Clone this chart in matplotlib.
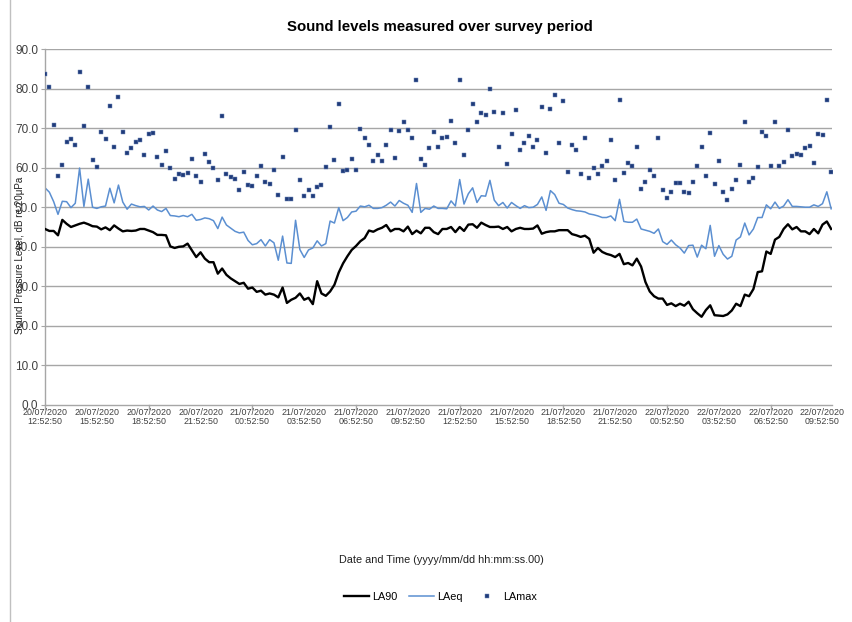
import matplotlib
matplotlib.use("Agg")
import matplotlib.pyplot as plt
from matplotlib.lines import Line2D
import numpy as np
from datetime import datetime, timedelta

plt.rcParams['font.family'] = ['Liberation Sans', 'DejaVu Sans']

# ---- data (15-minute intervals starting 20/07/2020 12:52:50) ----
start = datetime(2020, 7, 20, 12, 52, 50)
step_minutes = 15

la90 = [
    44.5, 44.0, 44.0, 42.9, 46.8, 45.8, 45.0, 45.4, 45.8, 46.1,
    45.7, 45.2, 45.1, 44.4, 44.9, 44.2, 45.4, 44.6, 43.9, 44.1,
    44.0, 44.1, 44.5, 44.5, 44.1, 43.7, 43.0, 43.0, 42.9, 40.1,
    39.7, 40.0, 40.1, 40.8, 39.1, 37.4, 38.6, 37.0, 36.1, 36.1,
    33.2, 34.5, 32.9, 32.0, 31.3, 30.6, 30.9, 29.4, 29.7, 28.6,
    28.9, 27.9, 28.2, 27.9, 27.2, 29.7, 25.8, 26.6, 27.1, 28.2,
    26.6, 27.1, 25.5, 31.3, 28.2, 27.6, 28.7, 30.4, 33.5, 35.8,
    37.6, 39.2, 40.2, 41.4, 42.2, 44.1, 43.8, 44.4, 44.8, 45.5,
    43.9, 44.5, 44.5, 43.9, 45.1, 43.2, 44.1, 43.4, 44.8, 44.8,
    43.7, 43.2, 44.5, 44.5, 45.0, 43.7, 45.0, 44.0, 45.6, 45.7,
    44.8, 46.1, 45.5, 45.0, 45.0, 45.1, 44.5, 45.0, 43.9, 44.5,
    44.8, 44.5, 44.5, 44.6, 45.4, 43.3, 43.7, 43.9, 43.9, 44.2,
    44.2, 44.2, 43.2, 42.9, 42.5, 42.8, 42.0, 38.5, 39.7, 38.7,
    38.2, 37.9, 37.4, 38.2, 35.6, 35.9, 35.3, 37.0, 35.0, 31.1,
    28.7, 27.5, 26.9, 26.9, 25.3, 25.7, 25.0, 25.6, 25.1, 26.1,
    24.2, 23.2, 22.3, 24.0, 25.2, 22.7, 22.6, 22.5, 22.9, 23.9,
    25.6, 25.0, 27.9, 27.5, 29.3, 33.6, 33.8, 38.8, 38.2, 41.8,
    42.5, 44.5, 45.7, 44.4, 45.0, 43.9, 43.9, 43.2, 44.5, 43.4,
    45.6, 46.4, 44.5,
]

laeq = [
    54.9, 53.8, 51.4, 48.2, 51.5, 51.4, 49.9, 51.0, 59.9, 50.2,
    57.1, 50.0, 49.7, 50.1, 50.3, 54.8, 51.1, 55.6, 51.3, 49.5,
    50.8, 50.4, 50.1, 50.2, 49.3, 50.3, 49.3, 48.9, 49.7, 47.9,
    47.8, 47.6, 47.9, 47.6, 48.2, 46.7, 46.9, 47.3, 47.1, 46.6,
    44.6, 47.5, 45.5, 44.7, 43.9, 43.5, 43.7, 41.6, 40.5, 40.8,
    41.8, 40.2, 41.8, 41.0, 36.6, 42.7, 35.9, 35.8, 46.7, 39.3,
    37.3, 39.2, 39.7, 41.5, 40.2, 40.8, 46.5, 46.0, 49.9, 46.6,
    47.4, 48.8, 49.0, 50.3, 50.1, 50.5, 49.7, 49.7, 49.9, 50.5,
    51.3, 50.3, 51.7, 51.0, 50.5, 48.7, 56.0, 48.7, 49.7, 49.5,
    50.3, 49.7, 49.7, 49.6, 51.6, 50.3, 57.0, 50.8, 53.4, 54.9,
    51.2, 52.9, 52.8, 56.8, 51.8, 50.4, 51.2, 49.8, 51.2, 50.4,
    49.7, 50.4, 49.9, 50.0, 50.7, 52.6, 49.2, 54.2, 53.2, 51.0,
    50.7, 49.8, 49.4, 49.1, 49.0, 48.8, 48.3, 48.1, 47.8, 47.4,
    47.4, 47.8, 46.6, 52.0, 46.4, 46.2, 46.2, 47.0, 44.5, 44.2,
    43.9, 43.4, 44.5, 41.3, 40.6, 41.7, 40.5, 39.7, 38.4, 40.3,
    40.4, 37.4, 40.4, 39.5, 45.4, 37.6, 40.3, 38.1, 36.9, 37.6,
    41.7, 42.5, 46.0, 43.0, 44.5, 47.4, 47.4, 50.6, 49.6, 51.3,
    49.7, 50.3, 51.9, 50.2, 50.2, 50.1, 50.0, 50.0, 50.6, 50.2,
    50.9, 53.9, 49.6,
]

lamax = [
    83.6, 80.5, 70.8, 57.9, 60.8, 66.4, 67.2, 65.8, 84.3, 70.6,
    80.5, 61.9, 60.2, 68.9, 67.2, 75.5, 65.1, 77.8, 68.9, 63.6,
    64.9, 66.6, 67.0, 63.1, 68.5, 68.7, 62.6, 60.6, 64.2, 60.0,
    57.2, 58.4, 58.2, 58.6, 62.1, 57.8, 56.3, 63.5, 61.4, 59.9,
    57.0, 73.0, 58.5, 57.7, 57.1, 54.3, 58.8, 55.7, 55.3, 57.8,
    60.5, 56.4, 55.8, 59.4, 53.2, 62.6, 52.0, 52.0, 69.4, 56.8,
    52.8, 54.4, 52.9, 55.2, 55.5, 60.2, 70.2, 61.9, 76.2, 59.1,
    59.3, 62.3, 59.4, 69.8, 67.5, 65.7, 61.7, 63.1, 61.7, 65.7,
    69.4, 62.5, 69.2, 71.5, 69.4, 67.4, 82.1, 62.1, 60.8, 64.9,
    69.0, 65.2, 67.6, 67.8, 71.7, 66.2, 82.1, 63.2, 69.4, 76.2,
    71.5, 73.7, 73.2, 79.8, 74.0, 65.2, 73.8, 61.0, 68.6, 74.7,
    64.4, 66.2, 68.1, 65.1, 67.0, 75.4, 63.7, 74.9, 78.4, 66.3,
    76.8, 58.9, 65.7, 64.5, 58.3, 67.5, 57.5, 60.0, 58.5, 60.4,
    61.7, 67.0, 56.9, 77.2, 58.6, 61.3, 60.4, 65.2, 54.6, 56.3,
    59.4, 58.0, 67.5, 54.3, 52.4, 53.8, 56.2, 56.1, 53.8, 53.5,
    56.3, 60.4, 65.1, 57.9, 68.7, 55.9, 61.7, 53.8, 51.7, 54.5,
    57.0, 60.6, 71.5, 56.4, 57.5, 60.2, 68.9, 68.1, 60.3, 71.5,
    60.3, 61.5, 69.4, 62.9, 63.4, 63.1, 64.9, 65.6, 61.2, 68.4,
    68.2, 77.2, 58.9,
]

y_ticks = [0, 10, 20, 30, 40, 50, 60, 70, 80, 90]
label_every = 12   # every 3 hours
tickmark_every = 24

n = len(la90)
x = np.arange(n)
times = [start + timedelta(minutes=step_minutes * i) for i in range(n)]

fig = plt.figure(figsize=(8.53, 6.22), dpi=100)
ax = fig.add_axes([0.0528, 0.3489, 0.9226, 0.5723])

grid_col = '#a6a6a6'
for v in y_ticks[1:]:
    ax.axhline(v, color=grid_col, lw=1.0, zorder=0)

ax.plot(x, la90, color='black', lw=1.7, zorder=3, label='LA90')
ax.plot(x, laeq, color='#5b8fd1', lw=1.1, zorder=2, label='LAeq')
mk = dict(ls='none', marker='s', ms=2.2, mfc='#1f3b7a', mec='#7088b8', mew=0.35)
ax.plot(x, lamax, zorder=4, label='LAmax', **mk)

ax.set_ylim(0, 90)
ax.set_xlim(0, n - 0.8)
ax.set_yticks(y_ticks)
ax.set_yticklabels([f"{v:.1f}" for v in y_ticks], fontsize=8.5, color='#404040')

lab_pos = list(range(0, n, label_every))
ax.set_xticks(lab_pos)
ax.set_xticklabels([t.strftime('%d/%m/%Y\n%H:%M:%S') for t in
                    [times[i] for i in lab_pos]], fontsize=6.4, color='#404040',
                   linespacing=1.0)
ax.tick_params(axis='x', length=0, pad=2)
ax.tick_params(axis='y', length=3, color=grid_col, pad=2)
for i in range(0, n, tickmark_every):
    ax.plot([i, i], [0, -1.0], color=grid_col, lw=1.0, clip_on=False, zorder=1)

for s in ['top', 'right']:
    ax.spines[s].set_visible(False)
ax.spines['left'].set_color(grid_col)
ax.spines['bottom'].set_color(grid_col)
ax.spines['left'].set_linewidth(1.0)
ax.spines['bottom'].set_linewidth(1.0)

fig.text(0.516, 0.956, 'Sound levels measured over survey period',
         ha='center', va='center', fontsize=10.8, fontweight='bold')
fig.text(0.023, 0.59, 'Sound Pressure Level, dB re 20μPa', rotation=90,
         ha='center', va='center', fontsize=7.1, color='#202020')
fig.text(0.517, 0.099, 'Date and Time (yyyy/mm/dd hh:mm:ss.00)',
         ha='center', va='center', fontsize=7.8, color='#202020')

handles = [
    Line2D([], [], color='black', lw=1.7),
    Line2D([], [], color='#5b8fd1', lw=1.1),
    Line2D([], [], **mk),
]
fig.legend(handles, ['LA90', 'LAeq', 'LAmax'], loc='center',
           bbox_to_anchor=(0.516, 0.040), ncol=3, frameon=False,
           fontsize=7.8, handlelength=2.3, columnspacing=1.1, handletextpad=0.3)

fig.add_artist(Line2D([0.012, 0.012], [0.0, 1.0], color='#c0c0c0', lw=1.0,
                      transform=fig.transFigure))

fig.savefig('out.png', dpi=100)
